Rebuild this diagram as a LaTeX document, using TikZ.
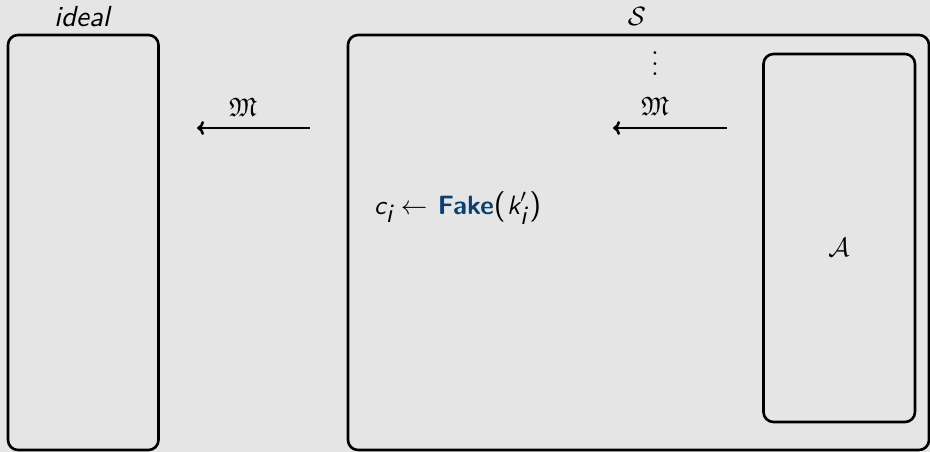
\documentclass[tikz,border=0pt]{standalone}
\usepackage{amssymb}
\usepackage{graphicx}
\usetikzlibrary{arrows.meta}
\definecolor{bgc}{RGB}{229,229,229}
\definecolor{fakeblue}{RGB}{12,62,110}
\newcommand{\sfit}[1]{\textsf{\itshape #1}}
\newcommand{\Sc}[1]{\scalebox{2.65}{#1}}
\newcommand{\bigparen}[1]{\scalebox{1.15}{\textsf{#1}}}
\begin{document}
\begin{tikzpicture}[x=1pt,y=-1pt,
  frame/.style={draw=black,line width=2.6pt,rounded corners=10pt},
  msg/.style={{Computer Modern Rightarrow[length=7pt,width=14pt]}-,line width=2.6pt},
  lbl/.style={inner sep=0pt}]
\fill[bgc] (0,0) rectangle (930,452);
\useasboundingbox (0,0) rectangle (930,452);
\draw[frame] (8,35) rectangle (158.5,450);
\node[lbl] (ideal) at (83,17) {\scalebox{2.9}{\sfit{ideal}}};
\draw[frame] (348,35) rectangle (929,450);
\node[lbl] (S) at (637,16) {\Sc{$\mathcal{S}$}};
\draw[frame] (763.5,54) rectangle (915,422);
\node[lbl] (A) at (839,247) {\Sc{$\mathcal{A}$}};
\node[lbl] (vd) at (655,56) {\Sc{$\vdots$}};
\coordinate (a1s) at (310,128);
\coordinate (a1e) at (197,128);
\draw[msg] (a1e) -- (a1s);
\node[lbl] (m1) at (243,107) {\Sc{$\mathfrak{M}$}};
\coordinate (a2s) at (727,128);
\coordinate (a2e) at (613,128);
\draw[msg] (a2e) -- (a2s);
\node[lbl] (m2) at (655,106) {\Sc{$\mathfrak{M}$}};
\node[lbl,anchor=west] (fake) at (374,208) {\Sc{$\textsf{\itshape c}_{\textsf{\itshape i}}\leftarrow\mkern2mu\textsf{\bfseries\color{fakeblue}Fake}\bigparen{(}\mkern1mu\textsf{\itshape k}'_{\textsf{\itshape i}}\mkern1mu\bigparen{)}$}};
\end{tikzpicture}
\end{document}
